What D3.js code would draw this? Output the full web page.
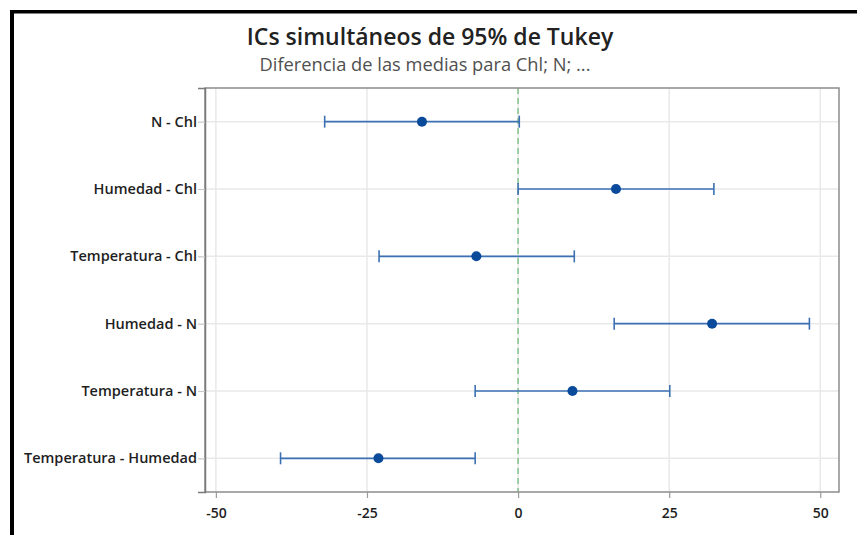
<!DOCTYPE html>
<html>
<head>
<meta charset="utf-8">
<script src="https://cdn.jsdelivr.net/npm/d3@7"></script>
<style>
  html, body { margin: 0; padding: 0; background: #fff; }
  svg { display: block; font-family: "Open Sans", "Noto Sans", sans-serif; }
</style>
</head>
<body>
<svg id="chart" width="857" height="535"></svg>
<script>
// Tukey simultaneous 95% confidence intervals for differences of means
const comparisons = ["N - Chl", "Humedad - Chl", "Temperatura - Chl", "Humedad - N", "Temperatura - N", "Temperatura - Humedad"];
const estimates   = [-15.9, 16.2, -6.9, 32.1, 9.0, -23.1];
const lowerBounds = [-32.0, 0.0, -23.0, 15.9, -7.1, -39.3];
const upperBounds = [0.2, 32.4, 9.3, 48.2, 25.1, -7.1];
const xTicks = [-50, -25, 0, 25, 50];
const titleText = "ICs simultáneos de 95% de Tukey";
const subtitleText = "Diferencia de las medias para Chl; N; ...";

const rows = comparisons.map((c, i) => ({
  name: c, est: estimates[i], lo: lowerBounds[i], hi: upperBounds[i]
}));

const svg = d3.select("#chart");
const plot = { left: 205, top: 88, right: 839, bottom: 492 };

const x = d3.scaleLinear().domain([-51.8, 53.1]).range([plot.left, plot.right]);
const y = d3.scalePoint().domain(comparisons).range([plot.top, plot.bottom]).padding(0.5);

// outer frame (top and left edges)
svg.append("rect").attr("x", 10).attr("y", 10).attr("width", 847).attr("height", 3.5).attr("fill", "#000");
svg.append("rect").attr("x", 10).attr("y", 10).attr("width", 4).attr("height", 525).attr("fill", "#000");

// titles
svg.append("text").attr("x", 430).attr("y", 44.5).attr("text-anchor", "middle")
  .attr("font-size", 23).attr("font-weight", 600).attr("fill", "#222").text(titleText);
svg.append("text").attr("x", 425).attr("y", 71).attr("text-anchor", "middle")
  .attr("font-size", 18.3).attr("fill", "#505050").text(subtitleText);

// grid lines
const grid = svg.append("g");
grid.selectAll("line.vg").data(xTicks).join("line")
  .attr("x1", d => x(d)).attr("x2", d => x(d))
  .attr("y1", plot.top).attr("y2", plot.bottom)
  .attr("stroke", "#e9e9e9").attr("stroke-width", 1.5);
grid.selectAll("line.hg").data(comparisons).join("line")
  .attr("x1", plot.left).attr("x2", plot.right)
  .attr("y1", d => y(d)).attr("y2", d => y(d))
  .attr("stroke", "#e9e9e9").attr("stroke-width", 1.5);

// zero reference line
svg.append("line")
  .attr("x1", x(0)).attr("x2", x(0))
  .attr("y1", plot.top).attr("y2", plot.bottom)
  .attr("stroke", "#84c28c").attr("stroke-width", 1.5)
  .attr("stroke-dasharray", "6,4");

// plot border
svg.append("rect")
  .attr("x", plot.left).attr("y", plot.top)
  .attr("width", plot.right - plot.left).attr("height", plot.bottom - plot.top)
  .attr("fill", "none").attr("stroke", "#8c8c8c").attr("stroke-width", 1.5);

// axes
const xAxis = svg.append("g").attr("transform", `translate(0,${plot.bottom})`)
  .call(d3.axisBottom(x).tickValues(xTicks).tickSize(6).tickPadding(10).tickFormat(d => String(d)));
xAxis.select(".domain").remove();
xAxis.selectAll(".tick line").attr("stroke", "#9a9a9a").attr("stroke-width", 1.2);
xAxis.selectAll(".tick text").attr("font-size", 14).attr("font-weight", 600)
  .attr("fill", "#1e1e1e").attr("font-family", "Open Sans, sans-serif");

const yAxis = svg.append("g").attr("transform", `translate(${plot.left},0)`)
  .call(d3.axisLeft(y).tickSize(7).tickPadding(1));
yAxis.select(".domain").attr("stroke", "#7a7a7a").attr("stroke-width", 1.5);
yAxis.selectAll(".tick line").attr("stroke", "#c8c8c8").attr("stroke-width", 1.2);
yAxis.selectAll(".tick text").attr("font-size", 14.5).attr("font-weight", 600)
  .attr("fill", "#1e1e1e").attr("font-family", "Open Sans, sans-serif");

// intervals
const lineColor = "#3b71b3";
const ci = svg.append("g");
ci.selectAll("line.span").data(rows).join("line")
  .attr("x1", d => x(d.lo)).attr("x2", d => x(d.hi))
  .attr("y1", d => y(d.name)).attr("y2", d => y(d.name))
  .attr("stroke", lineColor).attr("stroke-width", 1.6);
ci.selectAll("line.lo").data(rows).join("line")
  .attr("x1", d => x(d.lo)).attr("x2", d => x(d.lo))
  .attr("y1", d => y(d.name) - 6).attr("y2", d => y(d.name) + 6)
  .attr("stroke", lineColor).attr("stroke-width", 1.6);
ci.selectAll("line.hi").data(rows).join("line")
  .attr("x1", d => x(d.hi)).attr("x2", d => x(d.hi))
  .attr("y1", d => y(d.name) - 6).attr("y2", d => y(d.name) + 6)
  .attr("stroke", lineColor).attr("stroke-width", 1.6);
ci.selectAll("circle").data(rows).join("circle")
  .attr("cx", d => x(d.est)).attr("cy", d => y(d.name)).attr("r", 5)
  .attr("fill", "#0a4a9a");
</script>
</body>
</html>
